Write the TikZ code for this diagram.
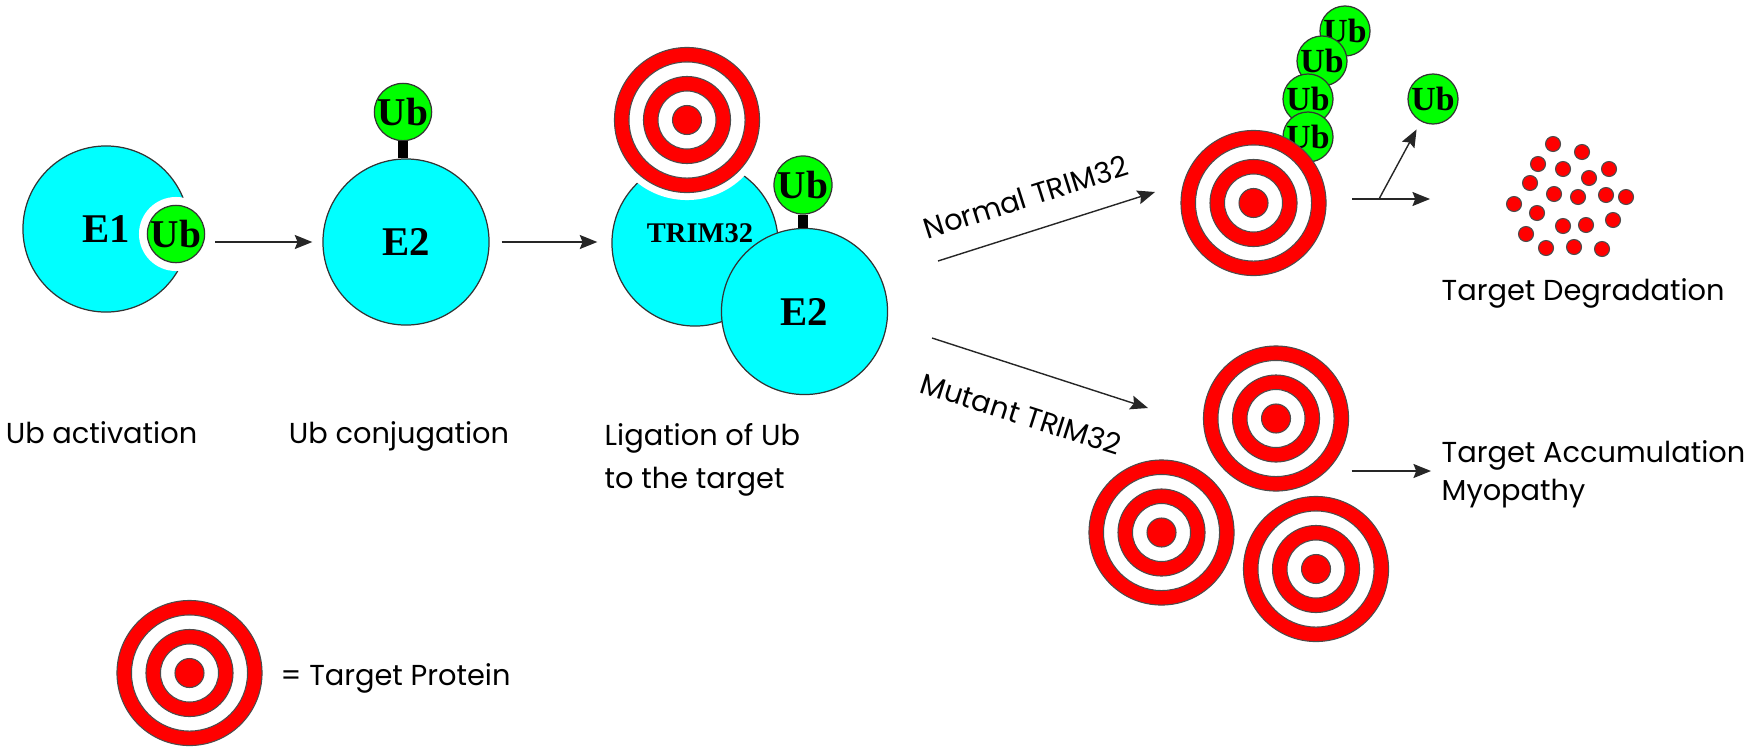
\documentclass[tikz,border=0pt]{standalone}
\usepackage{fontspec}
\setmainfont{Liberation Serif}
\setsansfont{Poppins}
\usetikzlibrary{arrows.meta,calc}
\definecolor{enzcolor}{RGB}{0,255,255}
\definecolor{ubcolor}{RGB}{0,255,0}
\definecolor{tgtcolor}{RGB}{255,0,0}
\tikzset{
  enzyme/.style={
    circle,
    draw=black!80,
    fill=enzcolor,
    line width=0.35pt,
    minimum size=1.66cm,
    inner sep=0pt,
    font=\fontsize{11.6}{12}\selectfont\bfseries
  },
  ubq/.style={
    circle,
    draw=black!80,
    fill=ubcolor,
    line width=0.35pt,
    minimum size=0.55cm,
    inner sep=0pt,
    font=\fontsize{11.2}{12}\selectfont\bfseries
  },
  small ubq/.style={
    ubq,
    minimum size=0.5cm,
    font=\fontsize{9.6}{10}\selectfont\bfseries
  },
  stalk/.style={line width=3.1pt, black},
  arrow/.style={
    -{Stealth[length=5pt,width=4pt,inset=0.8pt]},
    line width=0.4pt,
    black!85
  },
  lbl/.style={font=\sffamily\fontsize{8.2}{12}\selectfont, inner sep=0pt},
  dot/.style={fill=tgtcolor, draw=black!70, line width=0.3pt},
  bullseye/.pic={
    \foreach \r/\c in {1/tgtcolor, 0.8/white, 0.6/tgtcolor, 0.4/white, 0.2/tgtcolor}
      \filldraw[fill=\c, draw=black!70, line width=0.3pt] (0,0) circle[radius=\r*0.725cm];
  }
}

\begin{document}
\begin{tikzpicture}[x=0.01cm, y=-0.01cm]
  \useasboundingbox (0,0) rectangle (1758,748);

  % E1 with its Ub
  \node[enzyme] (e1) at (106,229) {E1};
  \fill[white] (176,234) circle[radius=0.37cm];
  \node[ubq] (ub1) at (176,234) {Ub};

  % E2 carrying Ub
  \node[enzyme] (e2a) at (406,242) {E2};
  \node[ubq] (uba) at (403,112) {Ub};
  \draw[stalk] (uba.south) -- (uba.south |- e2a.north);

  \draw[arrow, shorten <=0.1cm, shorten >=0.1cm] (ub1.east |- e2a.west) -- (e2a.west);

  % TRIM32 with the target and E2
  \node[enzyme] (trim) at (695,243) {};
  \node[font=\fontsize{8.1}{9}\selectfont\bfseries] (triml) at ([shift={(5,-10)}]trim) {TRIM32};
  \fill[white] (687,120) circle[radius=0.8cm];
  \pic at (687,120) {bullseye};
  \node[enzyme] (e2b) at (804.5,311.5) {E2};
  \node[ubq, minimum size=0.58cm] (ubb) at (803,185) {Ub};
  \draw[stalk] (ubb.south) -- (ubb.south |- e2b.north);

  \draw[arrow, shorten <=0.12cm, shorten >=0.14cm] (e2a.east) -- (trim.west |- e2a.east);

  % step labels (multi-line ones sit on their last line)
  \node[lbl, anchor=base] (lact) at (101.5,443) {Ub activation};
  \node[lbl, anchor=base] (lcon) at (399,443) {Ub conjugation};
  \node[lbl, anchor=base west, align=left] (llig) at (604,488) {Ligation of Ub\\to the target};

  % normal / mutant branches
  \coordinate (nrm0) at (938,261);
  \coordinate (nrm1) at (1155,192);
  \coordinate (mut0) at (932,338);
  \coordinate (mut1) at (1148,408);
  \draw[arrow] (nrm0) -- (nrm1);
  \draw[arrow] (mut0) -- (mut1);
  \node[lbl, anchor=base, rotate=17.6] (lnrm) at (1029,207) {Normal TRIM32};
  \node[lbl, anchor=base, rotate=-17.7] (lmut) at (1018,424) {Mutant TRIM32};

  % polyubiquitinated target
  \foreach \x/\y [count=\i] in {1345/31, 1322/61, 1308/99, 1308/137}
    \node[small ubq] (ch\i) at (\x,\y) {Ub};
  \pic at (1253.5,203) {bullseye};

  \node[small ubq] (ubf) at (1433,99) {Ub};
  \coordinate (spl0) at (1352,199);
  \coordinate (splx) at (1379,199);
  \coordinate (spl1) at (1430,199);
  \draw[arrow] (spl0) -- (spl1);
  \draw[arrow, shorten >=0.09cm] (splx) -- (ubf);

  % degraded fragments
  \foreach \x/\y in {1553/144, 1582/152, 1538/164, 1563/169, 1609/169,
                     1589/178, 1530/183, 1554/194, 1578/197, 1606/195,
                     1626/197, 1514/204, 1537/213, 1563/226, 1586/225,
                     1613/220, 1526/234, 1546/248, 1574/247, 1602/249}
    \filldraw[dot] (\x,\y) circle[radius=0.075cm];
  \node[lbl, anchor=base west] (ldeg) at (1441,300) {Target Degradation};

  % accumulated targets
  \pic at (1276,418.5) {bullseye};
  \pic at (1161.5,532.5) {bullseye};
  \pic at (1316,569) {bullseye};
  \coordinate (acc0) at (1351.5,471);
  \coordinate (acc1) at (1431,471);
  \draw[arrow] (acc0) -- (acc1);
  \node[lbl, anchor=base west, align=left, font=\sffamily\fontsize{8.2}{10.8}\selectfont] (lacc) at (1441,500) {Target Accumulation\\Myopathy};

  % legend
  \pic at (189.5,673) {bullseye};
  \node[lbl, anchor=base west] (lkey) at (280,685) {= Target Protein};
\end{tikzpicture}
\end{document}
